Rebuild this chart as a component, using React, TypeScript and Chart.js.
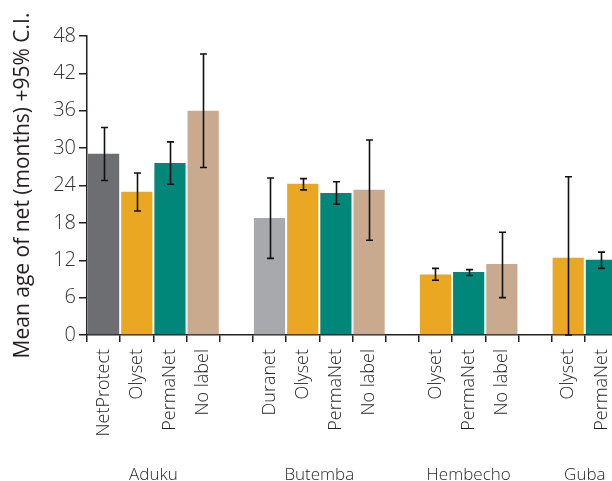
import React, { useEffect, useRef } from "react";
import { Chart, registerables } from "chart.js";

Chart.register(...registerables);

// ---- data ----
const siteNames = ["Aduku", "Butemba", "Hembecho", "Guba"];

const adukuNets = ["NetProtect", "Olyset", "PermaNet", "No label"];
const adukuMean = [29.1, 23.0, 27.6, 36.0];
const adukuLow = [24.8, 19.9, 24.2, 26.9];
const adukuHigh = [33.3, 26.0, 31.0, 45.1];

const butembaNets = ["Duranet", "Olyset", "PermaNet", "No label"];
const butembaMean = [18.8, 24.3, 22.8, 23.3];
const butembaLow = [12.3, 23.3, 21.0, 15.2];
const butembaHigh = [25.2, 25.1, 24.6, 31.3];

const hembechoNets = ["Olyset", "PermaNet", "No label"];
const hembechoMean = [9.7, 10.1, 11.4];
const hembechoLow = [8.8, 9.55, 6.0];
const hembechoHigh = [10.7, 10.5, 16.5];

const gubaNets = ["Olyset", "PermaNet"];
const gubaMean = [12.4, 12.1];
const gubaLow = [0, 10.7];
const gubaHigh = [25.4, 13.3];

const yTicks = [0, 6, 12, 18, 24, 30, 36, 42, 48];
const yTitle = "Mean age of net (months) +95% C.I.";

const netColors: Record<string, string> = {
  NetProtect: "#6d6e71",
  Duranet: "#a7a9ac",
  Olyset: "#eaa822",
  PermaNet: "#00877a",
  "No label": "#c9aa8e",
};

// ---- build table ----
const groups = [
  { nets: adukuNets, mean: adukuMean, low: adukuLow, high: adukuHigh },
  { nets: butembaNets, mean: butembaMean, low: butembaLow, high: butembaHigh },
  { nets: hembechoNets, mean: hembechoMean, low: hembechoLow, high: hembechoHigh },
  { nets: gubaNets, mean: gubaMean, low: gubaLow, high: gubaHigh },
];

const labels: string[] = [];
const values: (number | null)[] = [];
const lows: (number | null)[] = [];
const highs: (number | null)[] = [];
const colors: string[] = [];
const groupSpans: { name: string; first: number; last: number }[] = [];

groups.forEach((g, gi) => {
  const first = labels.length;
  g.nets.forEach((n, i) => {
    labels.push(n);
    values.push(g.mean[i]);
    lows.push(g.low[i]);
    highs.push(g.high[i]);
    colors.push(netColors[n]);
  });
  groupSpans.push({ name: siteNames[gi], first, last: labels.length - 1 });
  if (gi < groups.length - 1) {
    labels.push("");
    values.push(null);
    lows.push(null);
    highs.push(null);
    colors.push("#ffffff");
  }
});

const FONT = "'Open Sans', 'DejaVu Sans', sans-serif";
const TEXT = "#231f20";

const errorBarPlugin = {
  id: "errorBars",
  afterDatasetsDraw(chart: any) {
    const { ctx, scales } = chart;
    const x = scales.x;
    const y = scales.y;
    ctx.save();
    ctx.strokeStyle = "#111111";
    ctx.lineWidth = 1.6;
    for (let i = 0; i < labels.length; i++) {
      const lo = lows[i];
      const hi = highs[i];
      if (lo === null || hi === null) continue;
      const px = Math.round(x.getPixelForValue(i)) + 0.5;
      const pLo = y.getPixelForValue(lo);
      const pHi = y.getPixelForValue(hi);
      const cap = 3.5;
      ctx.beginPath();
      ctx.moveTo(px, pLo);
      ctx.lineTo(px, pHi);
      ctx.moveTo(px - cap, pHi);
      ctx.lineTo(px + cap, pHi);
      ctx.moveTo(px - cap, pLo);
      ctx.lineTo(px + cap, pLo);
      ctx.stroke();
    }
    ctx.restore();
  },
};

const groupLabelPlugin = {
  id: "groupLabels",
  afterDraw(chart: any) {
    const { ctx, scales } = chart;
    const x = scales.x;
    ctx.save();
    ctx.font = `300 17px ${FONT}`;
    ctx.fillStyle = TEXT;
    ctx.textAlign = "center";
    ctx.textBaseline = "alphabetic";
    groupSpans.forEach((g) => {
      const cx = (x.getPixelForValue(g.first) + x.getPixelForValue(g.last)) / 2;
      ctx.fillText(g.name, cx, chart.height - 1.5);
    });
    ctx.restore();
  },
};

export default function App() {
  const ref = useRef<HTMLCanvasElement | null>(null);

  useEffect(() => {
    if (!ref.current) return;
    const chart = new Chart(ref.current, {
      type: "bar",
      data: {
        labels,
        datasets: [
          {
            data: values as any,
            backgroundColor: colors,
            borderWidth: 0,
            barPercentage: 0.94,
            categoryPercentage: 1,
          },
        ],
      },
      options: {
        responsive: false,
        animation: false,
        devicePixelRatio: 1,
        layout: { padding: { top: 36, right: 22, bottom: 0, left: 0 } },
        plugins: {
          legend: { display: false },
          tooltip: { enabled: false },
        },
        scales: {
          x: {
            offset: true,
            grid: {
              offset: true,
              drawOnChartArea: false,
              drawTicks: true,
              tickLength: 7,
              color: TEXT,
              lineWidth: 1.5,
            },
            border: { display: true, color: TEXT, width: 1.5 },
            ticks: {
              autoSkip: false,
              minRotation: 90,
              maxRotation: 90,
              padding: 7,
              color: TEXT,
              font: { family: FONT, size: 18, weight: "300" as any },
            },
            afterFit(scale: any) {
              scale.height = 146;
            },
          },
          y: {
            min: 0,
            max: 48,
            afterBuildTicks(scale: any) {
              scale.ticks = yTicks.map((v) => ({ value: v }));
            },
            grid: {
              drawOnChartArea: false,
              drawTicks: true,
              tickLength: 8,
              color: TEXT,
              lineWidth: 1.5,
            },
            border: { display: true, color: TEXT, width: 1.5 },
            ticks: {
              padding: 3,
              color: "#333333",
              font: { family: FONT, size: 20, weight: "300" as any },
            },
            title: {
              display: true,
              text: yTitle,
              color: TEXT,
              font: { family: FONT, size: 21, weight: "400" as any },
              padding: { top: 10, bottom: 0 },
            },
            afterFit(scale: any) {
              scale.width = 87;
            },
          },
        },
      },
      plugins: [errorBarPlugin, groupLabelPlugin],
    });
    return () => chart.destroy();
  }, []);

  return (
    <div
      style={{
        position: "absolute",
        left: 0,
        top: 0,
        width: 612,
        height: 481,
        overflow: "hidden",
        background: "#ffffff",
      }}
    >
      <canvas ref={ref} width={640} height={481} style={{ display: "block" }} />
    </div>
  );
}
